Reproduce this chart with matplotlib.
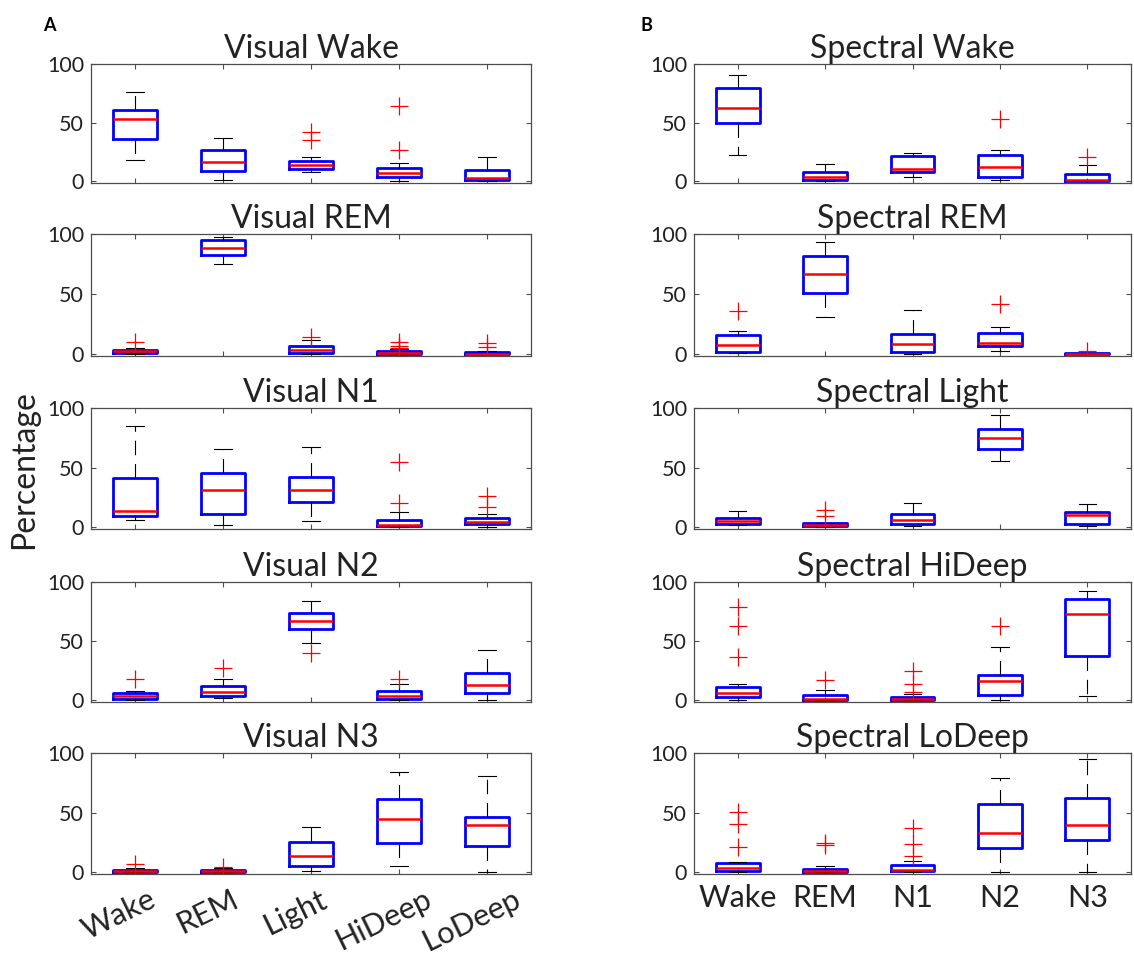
import matplotlib
matplotlib.use('Agg')
import matplotlib.pyplot as plt
from matplotlib.transforms import ScaledTranslation

plt.rcParams['font.family'] = ['Lato', 'DejaVu Sans']

# ---------------- data ----------------
visual_cats = ['Wake', 'REM', 'Light', 'HiDeep', 'LoDeep']
spectral_cats = ['Wake', 'REM', 'N1', 'N2', 'N3']

visual_titles = ['Visual Wake', 'Visual REM', 'Visual N1', 'Visual N2', 'Visual N3']
spectral_titles = ['Spectral Wake', 'Spectral REM', 'Spectral Light',
                   'Spectral HiDeep', 'Spectral LoDeep']

# each row: (lower whisker, Q1, median, Q3, upper whisker) for one category
visual_wake = [(18.3, 35.8, 53.2, 60.6, 76.0), (0.8, 9.0, 16.1, 26.8, 36.6),
               (8.2, 10.4, 13.5, 17.2, 20.3), (0.6, 3.9, 6.8, 11.3, 15.2),
               (0.0, 1.1, 3.1, 9.9, 20.3)]
visual_wake_fliers = [[], [], [41.7, 35.2], [64.5, 26.8], []]

visual_rem = [(0.0, 0.6, 2.3, 3.9, 5.1), (74.9, 82.8, 88.5, 94.6, 97.7),
              (0.0, 1.4, 3.9, 7.0, 11.8), (0.0, 0.0, 1.1, 2.8, 4.5),
              (0.0, 0.0, 0.5, 2.0, 3.0)]
visual_rem_fliers = [[10.1], [], [14.1], [10.0, 7.0, 5.2], [9.0, 6.0]]

visual_n1 = [(5.9, 9.2, 14.0, 40.9, 85.2), (2.2, 10.9, 31.4, 45.4, 65.3),
             (5.3, 21.3, 31.1, 42.0, 67.5), (0.0, 0.8, 2.2, 5.9, 12.9),
             (0.0, 2.5, 4.2, 8.1, 11.5)]
visual_n1_fliers = [[], [], [], [54.6, 20.2], [25.8, 16.8]]

visual_n2 = [(0.0, 1.4, 3.7, 5.9, 8.1), (1.7, 3.9, 6.7, 12.1, 17.7),
             (48.0, 60.4, 67.4, 73.9, 84.0), (0.0, 1.4, 3.4, 7.9, 13.5),
             (0.0, 5.9, 13.2, 23.3, 42.4)]
visual_n2_fliers = [[18.3], [27.0], [39.6], [18.3], []]

visual_n3 = [(0.0, 0.0, 1.1, 2.2, 3.3), (0.0, 0.0, 0.8, 1.9, 3.6),
             (1.4, 5.0, 13.9, 25.0, 38.3), (5.6, 24.4, 44.4, 61.1, 84.2),
             (0.0, 22.2, 39.4, 46.7, 80.6)]
visual_n3_fliers = [[7.2], [4.2], [], [], []]

spectral_wake = [(22.3, 49.3, 62.5, 79.4, 90.7), (0.0, 1.1, 3.4, 7.6, 14.9),
                 (3.9, 7.6, 10.7, 21.4, 24.2), (0.8, 3.9, 11.8, 22.3, 27.0),
                 (0.0, 0.0, 1.4, 6.5, 13.8)]
spectral_wake_fliers = [[], [], [], [52.7], [21.1]]

spectral_rem = [(0.6, 2.0, 7.6, 16.1, 19.2), (31.3, 51.0, 67.0, 81.7, 93.5),
                (0.3, 1.7, 8.2, 17.2, 36.9), (2.5, 7.0, 9.3, 17.7, 22.8),
                (0.0, 0.0, 0.3, 1.1, 1.1)]
spectral_rem_fliers = [[36.3], [], [], [41.7], [2.8]]

spectral_light = [(1.7, 3.1, 5.6, 7.8, 14.0), (0.0, 0.6, 2.2, 3.4, 3.9),
                  (0.6, 2.8, 5.9, 10.9, 20.7), (55.2, 65.5, 75.1, 82.1, 94.4),
                  (0.6, 3.1, 10.1, 12.9, 19.6)]
spectral_light_fliers = [[], [14.8, 9.2], [], [], []]

spectral_hideep = [(0.0, 3.1, 6.5, 11.2, 13.8), (0.0, 0.0, 1.4, 4.5, 8.7),
                   (0.0, 0.0, 1.1, 2.5, 5.1), (0.0, 4.2, 16.6, 21.6, 44.7),
                   (3.7, 37.4, 73.0, 86.0, 92.7)]
spectral_hideep_fliers = [[79.2, 62.4, 36.2], [17.1], [24.4, 13.5, 7.3], [62.6], []]

spectral_lodeep = [(0.0, 0.9, 3.7, 7.4, 8.5), (0.0, 0.0, 0.6, 2.6, 5.4),
                   (0.0, 0.6, 2.0, 5.7, 9.7), (0.0, 20.5, 32.5, 57.3, 78.9),
                   (0.0, 27.4, 39.3, 62.4, 94.6)]
spectral_lodeep_fliers = [[50.7, 40.5, 20.8], [24.2, 22.5], [36.8, 23.4, 14.0], [], []]

visual_panels = [(visual_wake, visual_wake_fliers), (visual_rem, visual_rem_fliers),
                 (visual_n1, visual_n1_fliers), (visual_n2, visual_n2_fliers),
                 (visual_n3, visual_n3_fliers)]
spectral_panels = [(spectral_wake, spectral_wake_fliers), (spectral_rem, spectral_rem_fliers),
                   (spectral_light, spectral_light_fliers),
                   (spectral_hideep, spectral_hideep_fliers),
                   (spectral_lodeep, spectral_lodeep_fliers)]

yticks = [0, 50, 100]

# ---------------- layout ----------------
W, H = 1134, 956
fig = plt.figure(figsize=(W / 100, H / 100), dpi=100)

row_tops = [64, 234, 408, 582, 753]
row_bots = [183, 356, 529, 702, 874]
col_lefts = [91, 694]
col_rights = [531, 1131]

frame_col = '#4d4d4d'
text_col = '#222222'


def draw_panel(ax, stats_rows, fliers, title, cats, rotate, show_x):
    stats = []
    for (lo, q1, med, q3, hi), fl in zip(stats_rows, fliers):
        stats.append(dict(whislo=lo, q1=q1, med=med, q3=q3, whishi=hi, fliers=fl))
    ax.bxp(stats, positions=range(1, len(stats) + 1), widths=0.5,
           capwidths=0.2, showfliers=True, patch_artist=False,
           boxprops=dict(color='#0000ff', linewidth=2.0),
           medianprops=dict(color='#ff0000', linewidth=1.8),
           whiskerprops=dict(color='black', linewidth=0.8, linestyle=(0, (13, 8))),
           capprops=dict(color='black', linewidth=0.8),
           flierprops=dict(marker='+', markersize=13, markeredgecolor='#ff0000',
                           markeredgewidth=0.9, linestyle='none'))
    ax.set_xlim(0.5, len(stats) + 0.5)
    ax.set_ylim(-1.5, 100)
    ax.set_yticks(yticks)
    ax.set_xticks(range(1, len(stats) + 1))
    ax.tick_params(direction='in', length=3.6, width=0.8, color=frame_col,
                   top=True, right=True, labelsize=15.5, labelcolor=text_col, pad=5)
    for s in ax.spines.values():
        s.set_color(frame_col)
        s.set_linewidth(0.9)
    ax.set_title(title, fontsize=23, color=text_col, pad=4)
    if show_x:
        if rotate:
            labels = ax.set_xticklabels(cats, rotation=26, ha='center', va='top',
                                        rotation_mode='default', fontsize=22)
            ax.tick_params(axis='x', pad=8)
            shift = ScaledTranslation(-16 / 100, 0, fig.dpi_scale_trans)
            for lab in labels:
                lab.set_transform(lab.get_transform() + shift)
        else:
            ax.set_xticklabels(cats, fontsize=22)
            ax.tick_params(axis='x', pad=7)
    else:
        ax.set_xticklabels([])


for col, (panels, titles, cats) in enumerate(
        [(visual_panels, visual_titles, visual_cats),
         (spectral_panels, spectral_titles, spectral_cats)]):
    for r in range(5):
        x0 = col_lefts[col] / W
        w = (col_rights[col] - col_lefts[col]) / W
        y0 = 1 - row_bots[r] / H
        h = (row_bots[r] - row_tops[r]) / H
        ax = fig.add_axes([x0, y0, w, h])
        rows, fl = panels[r]
        draw_panel(ax, rows, fl, titles[r], cats, rotate=(col == 0), show_x=(r == 4))

fig.text(24 / W, 1 - 470 / H, 'Percentage', rotation=90, ha='center', va='center',
         fontsize=23, color=text_col)
fig.text(43 / W, 1 - 31 / H, 'A', fontsize=13, fontweight='bold', color='black',
         ha='left', va='baseline')
fig.text(640 / W, 1 - 31 / H, 'B', fontsize=13, fontweight='bold', color='black',
         ha='left', va='baseline')

fig.savefig('out.png', dpi=100, facecolor='white')
